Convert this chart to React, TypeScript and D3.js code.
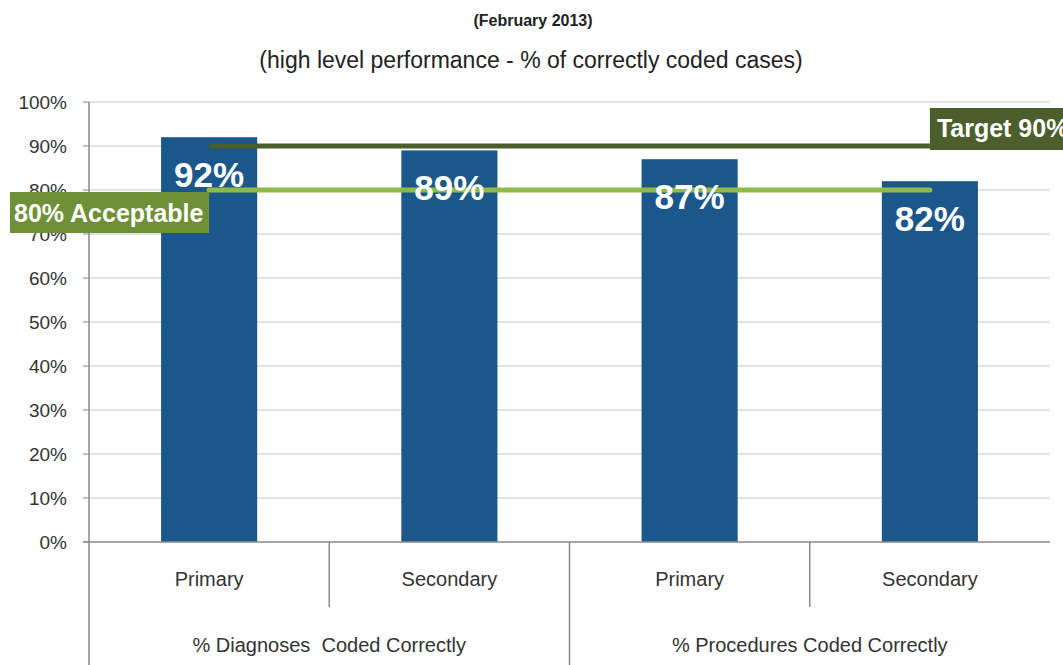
import React, { useRef, useEffect } from 'react';
import * as d3 from 'd3';

// chart data
const categories = ['Primary', 'Secondary', 'Primary', 'Secondary'];
const groups = ['% Diagnoses  Coded Correctly', '% Procedures Coded Correctly'];
const values = [92, 89, 87, 82];
const yTicks = [0, 10, 20, 30, 40, 50, 60, 70, 80, 90, 100];
const targetValue = 90;
const acceptableValue = 80;
const targetLabel = 'Target 90%';
const acceptableLabel = '80% Acceptable';
const title = '(February 2013)';
const subtitle = '(high level performance - % of correctly coded cases)';

const FONT = "'Liberation Sans', Arial, sans-serif";

const App = () => {
  const svgRef = useRef<SVGSVGElement>(null);

  useEffect(() => {
    const W = 1063;
    const H = 665;
    const left = 89;
    const right = 1050;
    const top = 102;
    const bottom = 542;

    const svg = d3.select(svgRef.current);
    svg.selectAll('*').remove();
    svg.attr('width', W).attr('height', H);

    const x = d3.scaleBand<number>()
      .domain(categories.map((_, i) => i))
      .range([left, right])
      .padding(0);

    const y = d3.scaleLinear()
      .domain([0, 100])
      .range([bottom, top]);

    const barW = x.bandwidth() * 0.4;

    // titles
    svg.append('text')
      .attr('x', 533)
      .attr('y', 26)
      .attr('text-anchor', 'middle')
      .style('font-family', FONT)
      .style('font-size', '16px')
      .style('font-weight', 'bold')
      .style('fill', '#222')
      .text(title);

    svg.append('text')
      .attr('x', 531)
      .attr('y', 68)
      .attr('text-anchor', 'middle')
      .style('font-family', FONT)
      .style('font-size', '23px')
      .style('fill', '#222')
      .text(subtitle);

    // gridlines
    svg.append('g')
      .selectAll('line')
      .data(yTicks.filter(d => d > 0))
      .enter()
      .append('line')
      .attr('x1', left)
      .attr('x2', right)
      .attr('y1', d => y(d))
      .attr('y2', d => y(d))
      .attr('stroke', '#d9d9d9')
      .attr('stroke-width', 1.5);

    // y tick labels
    svg.append('g')
      .selectAll('text')
      .data(yTicks)
      .enter()
      .append('text')
      .attr('x', 67)
      .attr('y', d => y(d) + 7)
      .attr('text-anchor', 'end')
      .style('font-family', FONT)
      .style('font-size', '19px')
      .style('fill', '#333')
      .text(d => `${d}%`);

    // y tick marks
    svg.append('g')
      .selectAll('line')
      .data(yTicks)
      .enter()
      .append('line')
      .attr('x1', left - 6)
      .attr('x2', left)
      .attr('y1', d => y(d))
      .attr('y2', d => y(d))
      .attr('stroke', '#888');

    // bars
    svg.append('g')
      .selectAll('rect')
      .data(values)
      .enter()
      .append('rect')
      .attr('x', (d, i) => x(i)! + (x.bandwidth() - barW) / 2)
      .attr('y', d => y(d))
      .attr('width', barW)
      .attr('height', d => y(0) - y(d))
      .attr('fill', '#1c578c');

    // axes lines
    svg.append('line')
      .attr('x1', left).attr('x2', left)
      .attr('y1', top).attr('y2', H)
      .attr('stroke', '#888').attr('stroke-width', 1.5);
    svg.append('line')
      .attr('x1', left - 6).attr('x2', right)
      .attr('y1', bottom).attr('y2', bottom)
      .attr('stroke', '#888').attr('stroke-width', 1.5);

    // category dividers
    categories.forEach((_, i) => {
      if (i === 0) return;
      const isGroup = i % 2 === 0;
      svg.append('line')
        .attr('x1', x(i)!).attr('x2', x(i)!)
        .attr('y1', bottom).attr('y2', isGroup ? H : 607)
        .attr('stroke', '#888').attr('stroke-width', 1.5);
    });

    // category labels
    svg.append('g')
      .selectAll('text')
      .data(categories)
      .enter()
      .append('text')
      .attr('x', (d, i) => x(i)! + x.bandwidth() / 2)
      .attr('y', 586)
      .attr('text-anchor', 'middle')
      .style('font-family', FONT)
      .style('font-size', '20px')
      .style('fill', '#333')
      .text(d => d);

    // group labels
    svg.append('g')
      .selectAll('text')
      .data(groups)
      .enter()
      .append('text')
      .attr('x', (d, i) => x(i * 2)! + x.bandwidth())
      .attr('y', 652)
      .attr('text-anchor', 'middle')
      .style('font-family', FONT)
      .style('font-size', '20px')
      .style('fill', '#333')
      .style('white-space', 'pre')
      .text(d => d);

    const lineX1 = x(0)! + x.bandwidth() / 2;
    const lineX2 = x(categories.length - 1)! + x.bandwidth() / 2;

    // target line
    svg.append('line')
      .attr('x1', lineX1).attr('x2', lineX2)
      .attr('y1', y(targetValue)).attr('y2', y(targetValue))
      .attr('stroke', '#4a5e2a')
      .attr('stroke-width', 5);

    // acceptable line
    svg.append('line')
      .attr('x1', lineX1).attr('x2', lineX2)
      .attr('y1', y(acceptableValue)).attr('y2', y(acceptableValue))
      .attr('stroke', '#8fba48')
      .attr('stroke-width', 5)
      .attr('stroke-linecap', 'round');

    // bar value labels
    svg.append('g')
      .selectAll('text')
      .data(values)
      .enter()
      .append('text')
      .attr('x', (d, i) => x(i)! + x.bandwidth() / 2)
      .attr('y', d => y(d) + 50)
      .attr('text-anchor', 'middle')
      .style('font-family', FONT)
      .style('font-size', '35px')
      .style('font-weight', 'bold')
      .style('fill', '#fff')
      .text(d => `${d}%`);

    // target label box
    svg.append('rect')
      .attr('x', lineX2)
      .attr('y', y(targetValue) - 38)
      .attr('width', 140)
      .attr('height', 42)
      .attr('fill', '#4b5e2b');
    svg.append('text')
      .attr('x', lineX2 + 7)
      .attr('y', y(targetValue) - 9)
      .style('font-family', FONT)
      .style('font-size', '25px')
      .style('font-weight', 'bold')
      .style('fill', '#fff')
      .text(targetLabel);

    // acceptable label box
    svg.append('rect')
      .attr('x', 10)
      .attr('y', y(acceptableValue) + 2)
      .attr('width', lineX1 - 10)
      .attr('height', 41)
      .attr('fill', '#6f9036');
    svg.append('text')
      .attr('x', 14)
      .attr('y', y(acceptableValue) + 32)
      .style('font-family', FONT)
      .style('font-size', '25px')
      .style('font-weight', 'bold')
      .style('fill', '#fff')
      .text(acceptableLabel);
  }, []);

  return (
    <svg
      ref={svgRef}
      style={{ position: 'absolute', left: 0, top: 0, background: '#fff' }}
    ></svg>
  );
};

export default App;
